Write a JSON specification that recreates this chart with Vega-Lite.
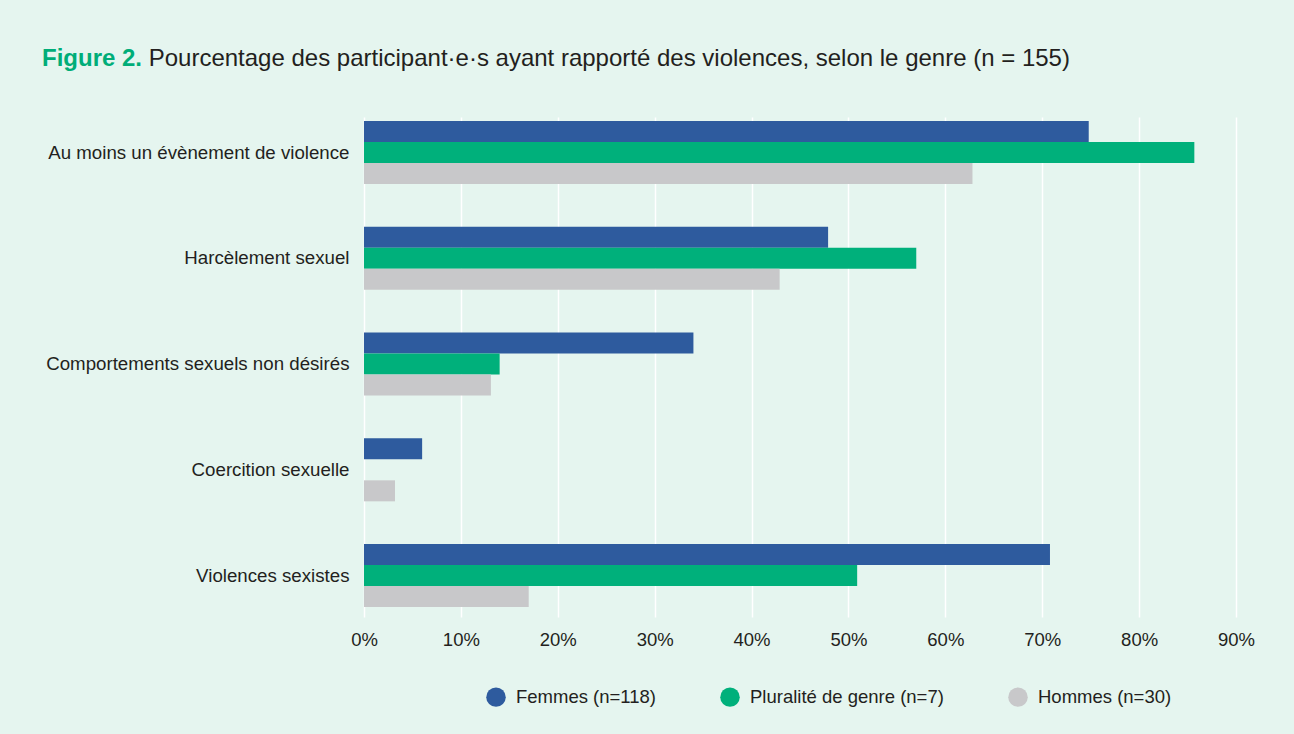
{
  "$schema": "https://vega.github.io/schema/vega-lite/v6.json",
  "width": 872,
  "height": 500,
  "autosize": {"type": "none"},
  "padding": {"left": 364, "top": 117, "right": 58, "bottom": 117},
  "background": "#e5f5ef",
  "title": {
    "text": "Figure 2.",
    "subtitle": "\u200b\u00a0\u00a0\u00a0\u00a0\u00a0\u00a0\u00a0\u00a0\u00a0\u00a0\u00a0\u00a0\u00a0\u00a0\u00a0\u00a0Pourcentage des participant·e·s ayant rapporté des violences, selon le genre (n = 155)",
    "anchor": "start",
    "frame": "group",
    "dx": -322,
    "offset": 46,
    "font": "Liberation Sans",
    "fontSize": 24,
    "fontWeight": "bold",
    "color": "#00ad78",
    "subtitleFont": "Liberation Sans",
    "subtitleFontSize": 24,
    "subtitleColor": "#231f20",
    "subtitlePadding": -24
  },
  "data": {
    "values": [
      {"categorie": "Au moins un évènement de violence", "genre": "Femmes (n=118)", "pct": 74.8},
      {"categorie": "Au moins un évènement de violence", "genre": "Pluralité de genre (n=7)", "pct": 85.7},
      {"categorie": "Au moins un évènement de violence", "genre": "Hommes (n=30)", "pct": 62.8},
      {"categorie": "Harcèlement sexuel", "genre": "Femmes (n=118)", "pct": 47.9},
      {"categorie": "Harcèlement sexuel", "genre": "Pluralité de genre (n=7)", "pct": 57.0},
      {"categorie": "Harcèlement sexuel", "genre": "Hommes (n=30)", "pct": 42.9},
      {"categorie": "Comportements sexuels non désirés", "genre": "Femmes (n=118)", "pct": 34.0},
      {"categorie": "Comportements sexuels non désirés", "genre": "Pluralité de genre (n=7)", "pct": 14.0},
      {"categorie": "Comportements sexuels non désirés", "genre": "Hommes (n=30)", "pct": 13.1},
      {"categorie": "Coercition sexuelle", "genre": "Femmes (n=118)", "pct": 6.0},
      {"categorie": "Coercition sexuelle", "genre": "Pluralité de genre (n=7)", "pct": 0},
      {"categorie": "Coercition sexuelle", "genre": "Hommes (n=30)", "pct": 3.2},
      {"categorie": "Violences sexistes", "genre": "Femmes (n=118)", "pct": 70.8},
      {"categorie": "Violences sexistes", "genre": "Pluralité de genre (n=7)", "pct": 50.9},
      {"categorie": "Violences sexistes", "genre": "Hommes (n=30)", "pct": 17.0}
    ]
  },
  "mark": {"type": "bar"},
  "encoding": {
    "y": {
      "field": "categorie",
      "type": "nominal",
      "sort": null,
      "scale": {"paddingInner": 0.404, "paddingOuter": 0.066, "align": 0.29},
      "axis": {
        "title": null,
        "ticks": false,
        "domain": false,
        "labelPadding": 15,
        "labelFont": "Liberation Sans",
        "labelFontSize": 18.7,
        "labelColor": "#231f20",
        "labelLimit": 400
      }
    },
    "yOffset": {
      "field": "genre",
      "type": "nominal",
      "sort": ["Femmes (n=118)", "Pluralité de genre (n=7)", "Hommes (n=30)"]
    },
    "x": {
      "field": "pct",
      "type": "quantitative",
      "scale": {"domain": [0, 90], "nice": false},
      "axis": {
        "title": null,
        "values": [0, 10, 20, 30, 40, 50, 60, 70, 80, 90],
        "labelExpr": "datum.value + '%'",
        "labelFlush": false,
        "ticks": false,
        "domain": false,
        "grid": true,
        "gridColor": "#ffffff",
        "gridWidth": 1.5,
        "gridOpacity": 1,
        "labelPadding": 13,
        "labelFont": "Liberation Sans",
        "labelFontSize": 18.5,
        "labelColor": "#231f20"
      }
    },
    "color": {
      "field": "genre",
      "type": "nominal",
      "sort": ["Femmes (n=118)", "Pluralité de genre (n=7)", "Hommes (n=30)"],
      "scale": {
        "domain": ["Femmes (n=118)", "Pluralité de genre (n=7)", "Hommes (n=30)"],
        "range": ["#2e5b9e", "#00b07b", "#c8c8ca"]
      },
      "legend": {
        "title": null,
        "orient": "none",
        "legendX": 122,
        "legendY": 570,
        "direction": "horizontal",
        "symbolType": "circle",
        "symbolSize": 380,
        "symbolStrokeWidth": 0,
        "symbolOpacity": 1,
        "labelFont": "Liberation Sans",
        "labelFontSize": 18.5,
        "labelColor": "#231f20",
        "labelOffset": 10,
        "columnPadding": 64,
        "labelLimit": 300
      }
    }
  },
  "config": {
    "view": {"stroke": null},
    "axis": {"zindex": 0}
  }
}
